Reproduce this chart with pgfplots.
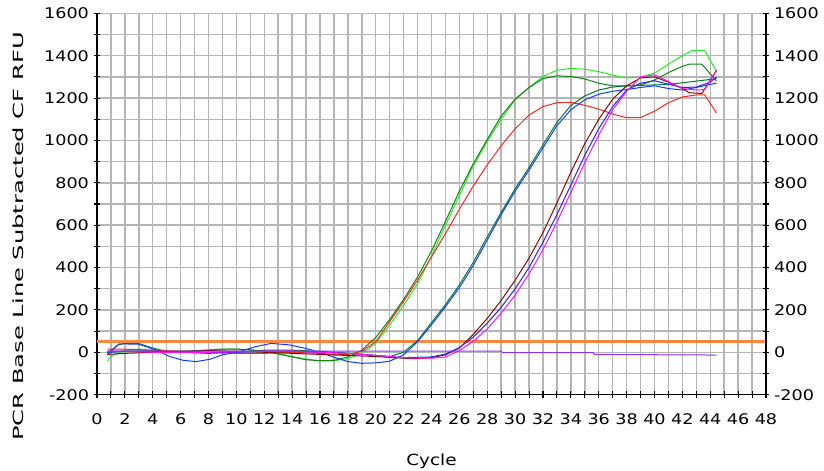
\documentclass[border=0pt]{standalone}
\usepackage{fontspec}
\setmainfont{DejaVu Sans}[FakeStretch=1.2]
\usepackage{graphicx}
\usepackage{pgfplots}
\pgfplotsset{compat=1.18}
\definecolor{gridgray}{RGB}{182,182,182}
\definecolor{thr}{RGB}{255,135,70}
\definecolor{clime}{RGB}{40,235,40}
\definecolor{cdgreen}{RGB}{20,130,20}
\definecolor{cteal}{RGB}{0,120,60}
\definecolor{cred}{RGB}{245,40,40}
\definecolor{cblue}{RGB}{20,60,250}
\definecolor{cblue2}{RGB}{40,40,240}
\definecolor{cbrown}{RGB}{130,10,10}
\definecolor{cmag}{RGB}{250,20,250}
\definecolor{cpurp}{RGB}{140,50,240}
\begin{document}
\begin{tikzpicture}
\begin{axis}[name=ax,
  width=501.75pt, height=286pt, scale only axis,
  xmin=0, xmax=48, ymin=-200, ymax=1600,
  xtick={0,2,...,48}, minor xtick={1,3,...,47},
  ytick={-200,0,...,1600}, minor ytick={-100,100,...,1500},
  grid=both,
  major grid style={draw=gridgray, line width=1.1pt},
  minor grid style={draw=gridgray, line width=1.1pt},
  axis x line*=bottom, axis y line*=left,
  axis line style={black, line width=1pt},
  tick align=center, major tick length=5pt, minor tick length=5pt,
  every tick/.style={black, line width=0.8pt},
  every minor tick/.style={black, line width=0.8pt},
  every tick label/.append style={font=\fontsize{11pt}{13pt}\selectfont},
  /pgf/number format/assume math mode=true,
  /pgf/number format/1000 sep={},
  xticklabel style={yshift=-8pt},
  xlabel={Cycle},
  ylabel={\scalebox{1.44}[1]{PCR Base Line Subtracted CF RFU}},
  xlabel style={at={(axis description cs:0.5,-0.175)}, anchor=center, font=\fontsize{11.5pt}{13pt}\selectfont},
  ylabel style={at={(axis description cs:-0.1176,0.415)}, anchor=center, font=\fontsize{10.5pt}{13pt}\selectfont},
  clip=true,
  every axis plot/.append style={line width=0.75pt, mark=none},
]
% threshold
\addplot[thr, line width=2.2pt] coordinates {(0,52) (48,52)};
% lime
\addplot[clime] coordinates {(0.75,-40) (1,-20) (2,10) (3,15) (4,10) (5,5) (6,5) (7,8) (8,12) (9,15) (10,15) (11,10) (12,5) (13,-5) (14,-20) (15,-32) (16,-40) (17,-40) (18,-30) (19,-5) (20,42) (21,128) (22,222) (23,323) (24,455) (25,600) (26,740) (27,880) (28,995) (29,1100) (30,1192) (31,1250) (32,1302) (33,1332) (34,1340) (35,1336) (36,1325) (37,1308) (38,1295) (39,1298) (40,1318) (41,1360) (42,1400) (42.7,1425) (43.6,1425) (44.45,1325)};
% dark green
\addplot[cdgreen] coordinates {(0.75,-5) (1.5,35) (2,42) (3,42) (4,20) (5,5) (6,0) (7,5) (8,10) (9,15) (10,15) (11,12) (12,5) (13,-8) (14,-22) (15,-35) (16,-40) (17,-38) (18,-22) (19,10) (20,70) (21,155) (22,250) (23,355) (24,478) (25,618) (26,760) (27,890) (28,1005) (29,1115) (30,1195) (31,1250) (32,1292) (33,1305) (34,1302) (35,1290) (36,1270) (37,1258) (38,1257) (39,1262) (40,1285) (41,1320) (42,1350) (42.5,1360) (43.4,1360) (44.45,1280)};
% red
\addplot[cred] coordinates {(0.75,15) (2,15) (4,10) (6,5) (8,0) (10,-5) (12,-5) (14,0) (16,-5) (17,-10) (18,-10) (19,5) (20,50) (21,145) (22,240) (23,340) (24,450) (25,560) (26,675) (27,785) (28,885) (29,975) (30,1055) (31,1120) (32,1160) (33,1178) (34,1180) (35,1166) (36,1148) (37,1125) (38,1107) (39,1108) (40,1138) (41,1178) (42,1205) (43,1215) (43.6,1215) (44.45,1130)};
% teal companion
\addplot[cteal] coordinates {(0.75,0) (2,5) (4,5) (6,0) (8,-5) (10,0) (12,10) (14,10) (16,5) (18,-5) (20,-15) (21,-20) (22,0) (23,55) (24,140) (25,225) (26,318) (27,425) (28,545) (29,660) (30,772) (31,872) (32,980) (33,1085) (34,1165) (35,1210) (36,1238) (37,1252) (38,1258) (39,1260) (40,1262) (41,1265) (42,1272) (43,1280) (44,1288) (44.45,1292)};
% blue B
\addplot[cblue] coordinates {(0.75,-10) (1.6,40) (3,38) (4.3,10) (5.2,-20) (6.2,-38) (7.1,-44) (8.1,-33) (9,-12) (10.2,3) (11.4,27) (12.5,42) (13.8,35) (15,18) (16.2,-5) (17,-23) (18,-44) (19,-52) (20,-50) (21,-42) (22,-12) (23,50) (24,130) (25,215) (26,305) (27,410) (28,530) (29,650) (30,760) (31,860) (32,965) (33,1070) (34,1145) (35,1192) (36,1218) (37,1232) (38,1240) (39,1250) (40,1258) (41,1245) (42,1238) (43,1250) (44,1265) (44.45,1270)};
% brown
\addplot[cbrown] coordinates {(0.75,-10) (2,-5) (4,0) (6,5) (8,8) (10,5) (12,0) (14,-5) (16,-10) (18,-15) (20,-20) (22,-28) (23,-30) (24,-25) (25,-12) (26,20) (27,85) (28,160) (29,245) (30,340) (31,445) (32,565) (33,705) (34,850) (35,985) (36,1100) (37,1195) (38,1258) (39,1295) (40,1300) (41,1275) (42,1245) (42.5,1225) (43.4,1222) (44.45,1332)};
% blue C
\addplot[cblue2] coordinates {(0.75,0) (2,5) (4,5) (6,0) (8,-2) (10,0) (12,5) (14,5) (16,0) (18,-5) (20,-15) (22,-25) (24,-22) (25,-8) (26,22) (27,72) (28,138) (29,212) (30,300) (31,400) (32,520) (33,650) (34,790) (35,930) (36,1055) (37,1160) (38,1238) (39,1270) (40,1282) (41,1265) (42,1250) (43,1252) (44,1275) (44.45,1300)};
% magenta
\addplot[cmag] coordinates {(0.75,5) (2,5) (4,0) (6,0) (8,0) (10,2) (12,5) (14,5) (16,0) (18,-5) (20,-15) (22,-25) (23,-28) (24,-28) (25,-22) (26,8) (27,52) (28,110) (29,185) (30,270) (31,370) (32,485) (33,615) (34,755) (35,895) (36,1025) (37,1145) (38,1232) (39,1300) (40,1310) (41,1278) (42,1245) (43,1238) (43.6,1240) (44.45,1330)};
% purple (negative)
\addplot[cpurp] coordinates {(0.75,5) (10,6) (20,6) (29,6) (29.1,-2) (35.6,-2) (35.7,-10) (44.45,-13)};
\end{axis}
\begin{axis}[
  width=501.75pt, height=286pt, scale only axis,
  xmin=0, xmax=48, ymin=-200, ymax=1600,
  axis x line=none, axis y line*=right,
  ytick={-200,0,...,1600}, minor ytick={-100,100,...,1500},
  axis line style={black, line width=1pt},
  tick align=center, major tick length=5pt, minor tick length=5pt,
  every tick/.style={black, line width=0.8pt},
  every minor tick/.style={black, line width=0.8pt},
  every tick label/.append style={font=\fontsize{11pt}{13pt}\selectfont},
  /pgf/number format/assume math mode=true,
  /pgf/number format/1000 sep={},
]
\addplot[draw=none] coordinates {(0,0) (48,0)};
\end{axis}
\pgfresetboundingbox
\path ([shift={(-72.75pt,-57pt)}]ax.south west) rectangle ([shift={(43.5pt,10pt)}]ax.north east);
\end{tikzpicture}
\end{document}
